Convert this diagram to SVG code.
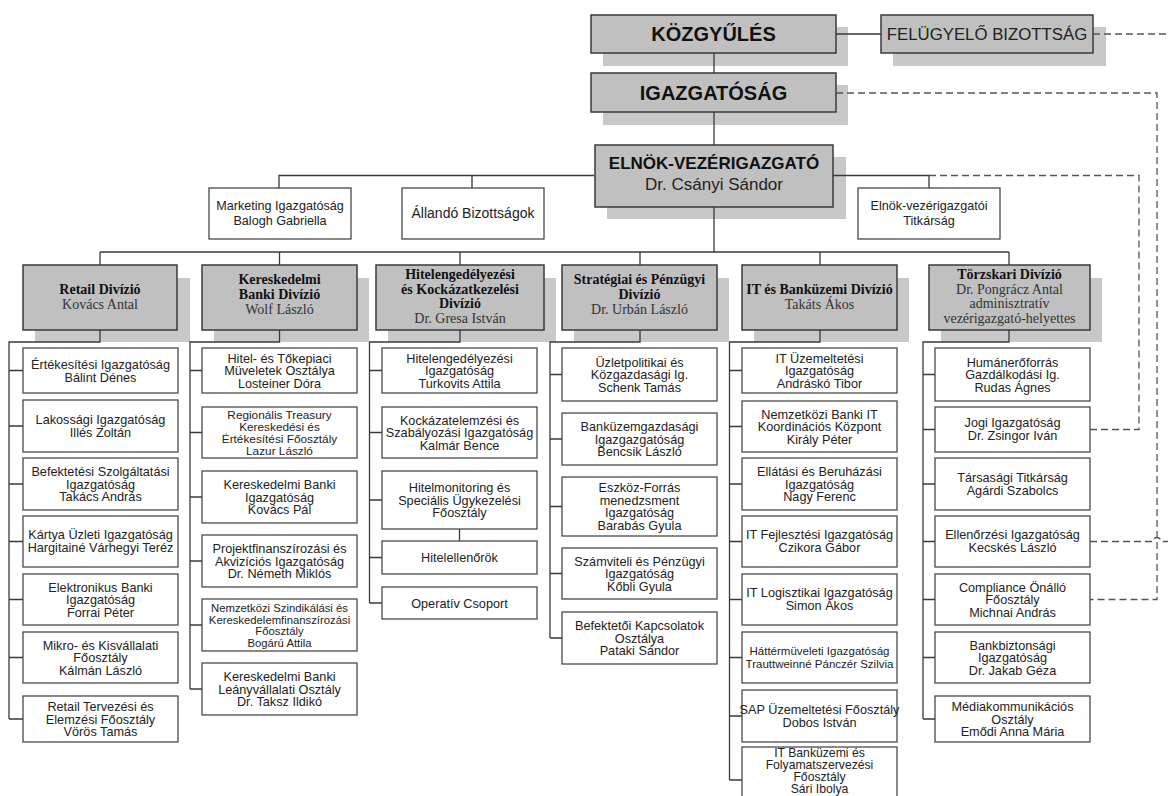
<svg xmlns="http://www.w3.org/2000/svg" width="1168" height="796" viewBox="0 0 1168 796">
<style>
.sh{fill:#c8c8c8}
.gb{fill:#c0c0c0;stroke:#3a3a3a;stroke-width:1.5}
.wb{fill:#fff;stroke:#4a4a4a;stroke-width:1.3}
.ln{stroke:#3a3a3a;stroke-width:1.3;fill:none}
.dl{stroke:#555;stroke-width:1.3;stroke-dasharray:7 4;fill:none}
.t{font-family:"Liberation Sans",Arial,sans-serif;font-size:12.7px;fill:#222;text-anchor:middle}
.tb{font-family:"Liberation Sans",Arial,sans-serif;font-weight:bold;fill:#111;text-anchor:middle}
.dv{font-family:"Liberation Serif","Times New Roman",serif;font-size:14px;fill:#333;text-anchor:middle}
.b{font-weight:bold;fill:#111}
</style>
<rect width="1168" height="796" fill="#fff"/>

<g id="kozgyules">
<rect class="sh" x="603" y="27" width="245" height="39"/>
<rect class="gb" x="591" y="15" width="245" height="38"/>
<text class="tb" x="713.5" y="41" style="font-size:20px">KÖZGYŰLÉS</text>
</g>
<g id="felugyelo">
<rect class="sh" x="893" y="27" width="213" height="39"/>
<rect class="gb" x="881" y="15" width="212" height="38"/>
<text class="t" x="987" y="40" style="font-size:16.8px">FELÜGYELŐ BIZOTTSÁG</text>
</g>
<g id="igazgatosag">
<rect class="sh" x="603" y="85" width="245" height="40"/>
<rect class="gb" x="591" y="73" width="245" height="39"/>
<text class="tb" x="713.5" y="100" style="font-size:20px">IGAZGATÓSÁG</text>
</g>
<g id="elnok">
<rect class="sh" x="607" y="157" width="239" height="62"/>
<rect class="gb" x="595" y="145" width="238" height="62"/>
<text class="tb" x="714" y="169" style="font-size:17px">ELNÖK-VEZÉRIGAZGATÓ</text>
<text class="t" x="714" y="190" style="font-size:17px">Dr. Csányi Sándor</text>
</g>
<g id="marketing">
<rect class="wb" x="209" y="188" width="142" height="51"/>
<text class="t" style="font-size:12.6px"><tspan x="280" y="210">Marketing Igazgatóság</tspan><tspan x="280" y="225">Balogh Gabriella</tspan></text>
</g>
<g id="allando">
<rect class="wb" x="402" y="188" width="142" height="51"/>
<text class="t" x="473" y="218" style="font-size:14px">Állandó Bizottságok</text>
</g>
<g id="titkarsag">
<rect class="wb" x="858" y="188" width="142" height="51"/>
<text class="t" style="font-size:12.6px"><tspan x="929" y="210">Elnök-vezérigazgatói</tspan><tspan x="929" y="225">Titkárság</tspan></text>
</g>

<g id="div-retail">
<rect class="sh" x="35" y="278" width="155" height="64"/>
<rect class="gb" x="23" y="265" width="154" height="65"/>
<text class="dv"><tspan class="b" x="100" y="293.5">Retail Divízió</tspan><tspan x="100" y="308.5">Kovács Antal</tspan></text>
</g>
<g id="div-kereskedelmi">
<rect class="sh" x="214" y="278" width="155" height="64"/>
<rect class="gb" x="202" y="265" width="155" height="65"/>
<text class="dv"><tspan class="b" x="279.5" y="284">Kereskedelmi</tspan><tspan class="b" x="279.5" y="299">Banki Divízió</tspan><tspan x="279.5" y="314">Wolf László</tspan></text>
</g>
<g id="div-hitel">
<rect class="sh" x="388" y="278" width="168" height="64"/>
<rect class="gb" x="376" y="265" width="168" height="65"/>
<text class="dv"><tspan class="b" x="460" y="279">Hitelengedélyezési</tspan><tspan class="b" x="460" y="293.5">és Kockázatkezelési</tspan><tspan class="b" x="460" y="308">Divízió</tspan><tspan x="460" y="322.5">Dr. Gresa István</tspan></text>
</g>
<g id="div-strategiai">
<rect class="sh" x="574" y="278" width="155" height="64"/>
<rect class="gb" x="562" y="265" width="155" height="65"/>
<text class="dv"><tspan class="b" x="639.5" y="284">Stratégiai és Pénzügyi</tspan><tspan class="b" x="639.5" y="299">Divízió</tspan><tspan x="639.5" y="314">Dr. Urbán László</tspan></text>
</g>
<g id="div-it">
<rect class="sh" x="754" y="278" width="155" height="64"/>
<rect class="gb" x="742" y="265" width="155" height="65"/>
<text class="dv"><tspan class="b" x="819.5" y="293.5">IT és Banküzemi Divízió</tspan><tspan x="819.5" y="308.5">Takáts Ákos</tspan></text>
</g>
<g id="div-torzskari">
<rect class="sh" x="941" y="278" width="161" height="64"/>
<rect class="gb" x="929" y="265" width="161" height="65"/>
<text class="dv"><tspan class="b" x="1009.5" y="279">Törzskari Divízió</tspan><tspan x="1009.5" y="293.5">Dr. Pongrácz Antal</tspan><tspan x="1009.5" y="308">adminisztratív</tspan><tspan x="1009.5" y="322.5">vezérigazgató-helyettes</tspan></text>
</g>

<!-- Retail children -->
<g id="r1"><rect class="wb" x="23" y="348" width="155" height="45"/><text class="t"><tspan x="100.5" y="369">Értékesítési Igazgatóság</tspan><tspan x="100.5" y="382">Bálint Dénes</tspan></text></g>
<g id="r2"><rect class="wb" x="23" y="400" width="155" height="52"/><text class="t"><tspan x="100.5" y="423.5">Lakossági Igazgatóság</tspan><tspan x="100.5" y="436.5">Illés Zoltán</tspan></text></g>
<g id="r3"><rect class="wb" x="23" y="458" width="155" height="52"/><text class="t"><tspan x="100.5" y="476">Befektetési Szolgáltatási</tspan><tspan x="100.5" y="488.5">Igazgatóság</tspan><tspan x="100.5" y="501">Takács András</tspan></text></g>
<g id="r4"><rect class="wb" x="23" y="516" width="155" height="51"/><text class="t"><tspan x="100.5" y="539">Kártya Üzleti Igazgatóság</tspan><tspan x="100.5" y="552">Hargitainé Várhegyi Teréz</tspan></text></g>
<g id="r5"><rect class="wb" x="23" y="574" width="155" height="51"/><text class="t"><tspan x="100.5" y="591.5">Elektronikus Banki</tspan><tspan x="100.5" y="604">Igazgatóság</tspan><tspan x="100.5" y="616.5">Forrai Péter</tspan></text></g>
<g id="r6"><rect class="wb" x="23" y="632" width="155" height="51"/><text class="t"><tspan x="100.5" y="649.5">Mikro- és Kisvállalati</tspan><tspan x="100.5" y="662">Főosztály</tspan><tspan x="100.5" y="674.5">Kálmán László</tspan></text></g>
<g id="r7"><rect class="wb" x="23" y="696" width="155" height="46"/><text class="t"><tspan x="100.5" y="711">Retail Tervezési és</tspan><tspan x="100.5" y="723.5">Elemzési Főosztály</tspan><tspan x="100.5" y="736">Vörös Tamás</tspan></text></g>

<!-- Kereskedelmi children -->
<g id="k1"><rect class="wb" x="202" y="348" width="155" height="45"/><text class="t"><tspan x="279.5" y="362.5">Hitel- és Tőkepiaci</tspan><tspan x="279.5" y="375">Müveletek Osztálya</tspan><tspan x="279.5" y="387.5">Losteiner Dóra</tspan></text></g>
<g id="k2"><rect class="wb" x="202" y="407" width="155" height="51"/><text class="t" style="font-size:11.8px"><tspan x="279.5" y="418.5">Regionális Treasury</tspan><tspan x="279.5" y="430.5">Kereskedési és</tspan><tspan x="279.5" y="442.5">Értékesítési Főosztály</tspan><tspan x="279.5" y="454.5">Lazur László</tspan></text></g>
<g id="k3"><rect class="wb" x="202" y="471" width="155" height="52"/><text class="t"><tspan x="279.5" y="489">Kereskedelmi Banki</tspan><tspan x="279.5" y="501.5">Igazgatóság</tspan><tspan x="279.5" y="514">Kovács Pál</tspan></text></g>
<g id="k4"><rect class="wb" x="202" y="535" width="155" height="52"/><text class="t"><tspan x="279.5" y="553">Projektfinanszírozási és</tspan><tspan x="279.5" y="565.5">Akvizíciós Igazgatóság</tspan><tspan x="279.5" y="578">Dr. Németh Miklós</tspan></text></g>
<g id="k5"><rect class="wb" x="202" y="599" width="155" height="52"/><text class="t" style="font-size:11.3px"><tspan x="279.5" y="612">Nemzetközi Szindikálási és</tspan><tspan x="279.5" y="623.5">Kereskedelemfinanszírozási</tspan><tspan x="279.5" y="635">Főosztály</tspan><tspan x="279.5" y="646.5">Bogárú Attila</tspan></text></g>
<g id="k6"><rect class="wb" x="202" y="663" width="155" height="52"/><text class="t"><tspan x="279.5" y="681">Kereskedelmi Banki</tspan><tspan x="279.5" y="693.5">Leányvállalati Osztály</tspan><tspan x="279.5" y="706">Dr. Taksz Ildikó</tspan></text></g>

<!-- Hitel children -->
<g id="h1"><rect class="wb" x="382" y="348" width="155" height="45"/><text class="t"><tspan x="459.5" y="362.5">Hitelengedélyezési</tspan><tspan x="459.5" y="375">Igazgatóság</tspan><tspan x="459.5" y="387.5">Turkovits Attila</tspan></text></g>
<g id="h2"><rect class="wb" x="382" y="407" width="155" height="51"/><text class="t"><tspan x="459.5" y="424.5">Kockázatelemzési és</tspan><tspan x="459.5" y="437">Szabályozási Igazgatóság</tspan><tspan x="459.5" y="449.5">Kalmár Bence</tspan></text></g>
<g id="h3"><rect class="wb" x="382" y="471" width="155" height="58"/><text class="t"><tspan x="459.5" y="492">Hitelmonitoring és</tspan><tspan x="459.5" y="504.5">Speciális Ügykezelési</tspan><tspan x="459.5" y="517">Főosztály</tspan></text></g>
<g id="h4"><rect class="wb" x="382" y="541" width="155" height="33"/><text class="t" x="459.5" y="562">Hitelellenőrök</text></g>
<g id="h5"><rect class="wb" x="382" y="587" width="155" height="32"/><text class="t" x="459.5" y="607.5">Operatív Csoport</text></g>

<!-- Strategiai children -->
<g id="s1"><rect class="wb" x="562" y="348" width="155" height="53"/><text class="t"><tspan x="639.5" y="366.5">Üzletpolitikai és</tspan><tspan x="639.5" y="379">Közgazdasági Ig.</tspan><tspan x="639.5" y="391.5">Schenk Tamás</tspan></text></g>
<g id="s2"><rect class="wb" x="562" y="413" width="155" height="52"/><text class="t"><tspan x="639.5" y="431">Banküzemgazdasági</tspan><tspan x="639.5" y="443.5">Igazgazgatóság</tspan><tspan x="639.5" y="456">Bencsik László</tspan></text></g>
<g id="s3"><rect class="wb" x="562" y="477" width="155" height="59"/><text class="t"><tspan x="639.5" y="492">Eszköz-Forrás</tspan><tspan x="639.5" y="504.5">menedzsment</tspan><tspan x="639.5" y="517">Igazgatóság</tspan><tspan x="639.5" y="529.5">Barabás Gyula</tspan></text></g>
<g id="s4"><rect class="wb" x="562" y="548" width="155" height="51"/><text class="t"><tspan x="639.5" y="565.5">Számviteli és Pénzügyi</tspan><tspan x="639.5" y="578">Igazgatóság</tspan><tspan x="639.5" y="590.5">Kőbli Gyula</tspan></text></g>
<g id="s5"><rect class="wb" x="562" y="612" width="155" height="52"/><text class="t"><tspan x="639.5" y="630">Befektetői Kapcsolatok</tspan><tspan x="639.5" y="642.5">Osztálya</tspan><tspan x="639.5" y="655">Pataki Sándor</tspan></text></g>

<!-- IT children -->
<g id="i1"><rect class="wb" x="742" y="348" width="155" height="45"/><text class="t"><tspan x="819.5" y="362.5">IT Üzemeltetési</tspan><tspan x="819.5" y="375">Igazgatóság</tspan><tspan x="819.5" y="387.5">Andráskó Tibor</tspan></text></g>
<g id="i2"><rect class="wb" x="742" y="401" width="155" height="51"/><text class="t"><tspan x="819.5" y="418.5">Nemzetközi Banki IT</tspan><tspan x="819.5" y="431">Koordinációs Központ</tspan><tspan x="819.5" y="443.5">Király Péter</tspan></text></g>
<g id="i3"><rect class="wb" x="742" y="458" width="155" height="52"/><text class="t"><tspan x="819.5" y="476">Ellátási és Beruházási</tspan><tspan x="819.5" y="488.5">Igazgatóság</tspan><tspan x="819.5" y="501">Nagy Ferenc</tspan></text></g>
<g id="i4"><rect class="wb" x="742" y="516" width="155" height="51"/><text class="t"><tspan x="819.5" y="539">IT Fejlesztési Igazgatóság</tspan><tspan x="819.5" y="552">Czikora Gábor</tspan></text></g>
<g id="i5"><rect class="wb" x="742" y="574" width="155" height="51"/><text class="t"><tspan x="819.5" y="597">IT Logisztikai Igazgatóság</tspan><tspan x="819.5" y="610">Simon Ákos</tspan></text></g>
<g id="i6"><rect class="wb" x="742" y="632" width="155" height="51"/><text class="t" style="font-size:11.5px"><tspan x="819.5" y="655">Háttérmüveleti Igazgatóság</tspan><tspan x="819.5" y="668">Trauttweinné Pánczér Szilvia</tspan></text></g>
<g id="i7"><rect class="wb" x="742" y="690" width="155" height="52"/><text class="t"><tspan x="819.5" y="713.5">SAP Üzemeltetési Főosztály</tspan><tspan x="819.5" y="726.5">Dobos István</tspan></text></g>
<g id="i8"><rect class="wb" x="742" y="747" width="155" height="66"/><text class="t" style="font-size:12.2px"><tspan x="819.5" y="757">IT Banküzemi és</tspan><tspan x="819.5" y="769">Folyamatszervezési</tspan><tspan x="819.5" y="781">Főosztály</tspan><tspan x="819.5" y="793">Sári Ibolya</tspan></text></g>

<!-- Torzskari children -->
<g id="t1"><rect class="wb" x="935" y="348" width="155" height="53"/><text class="t"><tspan x="1012.5" y="366.5">Humánerőforrás</tspan><tspan x="1012.5" y="379">Gazdálkodási Ig.</tspan><tspan x="1012.5" y="391.5">Rudas Ágnes</tspan></text></g>
<g id="t2"><rect class="wb" x="935" y="407" width="155" height="45"/><text class="t"><tspan x="1012.5" y="427">Jogi Igazgatóság</tspan><tspan x="1012.5" y="440">Dr. Zsingor Iván</tspan></text></g>
<g id="t3"><rect class="wb" x="935" y="458" width="155" height="52"/><text class="t"><tspan x="1012.5" y="481.5">Társasági Titkárság</tspan><tspan x="1012.5" y="494.5">Agárdi Szabolcs</tspan></text></g>
<g id="t4"><rect class="wb" x="935" y="516" width="155" height="51"/><text class="t"><tspan x="1012.5" y="539">Ellenőrzési Igazgatóság</tspan><tspan x="1012.5" y="552">Kecskés László</tspan></text></g>
<g id="t5"><rect class="wb" x="935" y="574" width="155" height="51"/><text class="t"><tspan x="1012.5" y="591.5">Compliance Önálló</tspan><tspan x="1012.5" y="604">Főosztály</tspan><tspan x="1012.5" y="616.5">Michnai András</tspan></text></g>
<g id="t6"><rect class="wb" x="935" y="632" width="155" height="51"/><text class="t"><tspan x="1012.5" y="649.5">Bankbiztonsági</tspan><tspan x="1012.5" y="662">Igazgatóság</tspan><tspan x="1012.5" y="674.5">Dr. Jakab Géza</tspan></text></g>
<g id="t7"><rect class="wb" x="935" y="696" width="155" height="46"/><text class="t"><tspan x="1012.5" y="711">Médiakommunikációs</tspan><tspan x="1012.5" y="723.5">Osztály</tspan><tspan x="1012.5" y="736">Emődi Anna Mária</tspan></text></g>

<g id="connectors">
<path class="ln" d="M714,53V73M714,112V145M836,34H881M714,207V252M594,175.5H279V188M472,175.5V188M833,175.5H929V188"/>
<path class="ln" d="M100,252H1009M100,252V265M279.5,252V265M460,252V265M640,252V265M820,252V265M1009,252V265"/>
<path class="ln" d="M100,330V342H9V719M9,370.5H23M9,426H23M9,484H23M9,541.5H23M9,599.5H23M9,657.5H23M9,719H23"/>
<path class="ln" d="M279.5,330V342H190V689M190,370.5H202M190,432.5H202M190,497H202M190,561H202M190,625H202M190,689H202"/>
<path class="ln" d="M460,330V342H369.5V603M369.5,370.5H382M369.5,432.5H382M369.5,500H382M369.5,557.5H382M369.5,603H382M459.5,529V541"/>
<path class="ln" d="M640,330V342H550V638M550,374.5H562M550,439H562M550,506.5H562M550,573.5H562M550,638H562"/>
<path class="ln" d="M820,330V342H729.5V780M729.5,370.5H742M729.5,426.5H742M729.5,484H742M729.5,541.5H742M729.5,599.5H742M729.5,657.5H742M729.5,716H742M729.5,780H742"/>
<path class="ln" d="M1009,330V342H923V719M923,374.5H935M923,429.5H935M923,484H935M923,541.5H935M923,599.5H935M923,657.5H935M923,719H935"/>
<path class="dl" d="M1093,34H1168"/>
<path class="dl" d="M836,93H1157V599.5H1090"/>
<path class="dl" d="M929,175.5H1139V429.5H1090"/>
<path class="dl" d="M1090,541.5H1153a4,4 0 0 1 8,0H1168"/>
</g>
</svg>
